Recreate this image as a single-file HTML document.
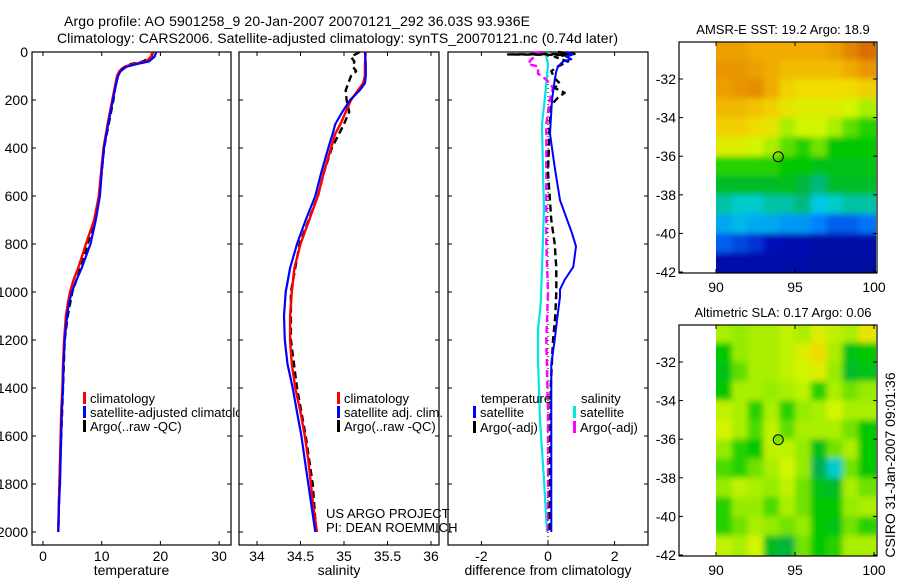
<!DOCTYPE html>
<html><head><meta charset="utf-8">
<style>
html,body{margin:0;padding:0;background:#fff;}
svg{display:block;font-family:"Liberation Sans",sans-serif;font-size:14px;}
.sm{font-size:13px;}
</style></head>
<body>
<svg id="fig" width="900" height="580" viewBox="0 0 900 580" xmlns="http://www.w3.org/2000/svg">
<text x="64" y="26" textLength="466" lengthAdjust="spacing">Argo profile: AO 5901258_9 20-Jan-2007 20070121_292 36.03S 93.936E</text>
<text x="57" y="43" textLength="561" lengthAdjust="spacing">Climatology: CARS2006. Satellite-adjusted climatology: synTS_20070121.nc (0.74d later)</text>
<g id="layer"></g>
</svg>
<script>
// ---------------- data ----------------
const depthTicks=[0,200,400,600,800,1000,1200,1400,1600,1800,2000];
const tempTicks=[0,10,20,30];
const salTicks=[34,34.5,35,35.5,36];
const diffTicks=[-2,0,2];
// temperature profiles
const tClimDepth=[0,20,40,50,60,70,80,100,150,200,300,400,500,600,700,800,900,950,1000,1050,1100,1200,1300,1400,1500,1600,1700,1800,1900,2000];
const tClim=[18.6,18.4,17.5,15.5,14.0,13.4,13.0,12.6,12.2,11.8,11.0,10.3,9.9,9.5,8.7,7.3,6.0,5.2,4.6,4.2,3.9,3.6,3.4,3.3,3.1,3.0,2.9,2.8,2.7,2.6];
const tSat=[19.3,19.0,18.0,16.0,14.4,13.6,13.2,12.8,12.3,11.9,11.1,10.4,10.0,9.7,9.0,8.1,6.6,5.7,4.9,4.4,4.1,3.7,3.5,3.4,3.2,3.1,3.0,2.9,2.7,2.6];
const tArgoDepth=[0,20,40,50,60,80,100,150,200,300,400,500,600,700,800,900,1000,1100,1200,1400,1600,1800,2000];
const tArgo=[18.7,18.5,17.0,15.0,14.2,13.2,12.7,12.3,12.0,11.2,10.4,10.0,9.6,8.8,7.6,6.4,5.0,4.2,3.7,3.4,3.1,2.8,2.6];
// salinity profiles
const sDepth=[0,50,100,130,160,200,250,300,340,400,500,600,700,800,900,1000,1100,1200,1300,1400,1500,1600,1700,1800,1900,2000];
const sClim=[35.25,35.24,35.24,35.22,35.16,35.08,35.02,34.96,34.90,34.85,34.77,34.70,34.60,34.50,34.43,34.40,34.38,34.38,34.40,34.44,34.50,34.55,34.59,34.62,34.65,34.69];
const sSat=[35.24,35.25,35.25,35.24,35.18,35.07,34.98,34.90,34.87,34.82,34.74,34.67,34.56,34.46,34.38,34.33,34.31,34.32,34.35,34.41,34.46,34.51,34.55,34.59,34.63,34.67];
const sArgoDepth=[0,20,40,60,80,100,130,160,200,250,300,400,500,600,800,1000,1200,1400,1600,1800,2000];
const sArgo=[35.18,35.08,35.12,35.1,35.14,35.08,35.05,35.02,35.03,35.06,35.0,34.86,34.77,34.70,34.49,34.39,34.39,34.46,34.56,34.64,34.68];
// differences from climatology
const dTSatDepth=[0,10,20,30,40,60,80,117,200,340,480,617,755,810,895,950,990,1020,1117,1200,1300,1500,1800,2000];
const dTSat=[0.55,0.75,0.55,0.7,0.45,0.3,0.25,0.2,0.12,0.06,0.2,0.36,0.72,0.84,0.76,0.5,0.36,0.36,0.27,0.2,0.1,0.1,0.1,0.1];
const dSSatDepth=[0,20,50,100,200,300,500,650,900,1050,1158,1283,1533,1783,2000];
const dSSat=[0,-0.05,0.0,-0.03,-0.1,-0.18,-0.15,-0.12,-0.18,-0.22,-0.3,-0.3,-0.24,-0.12,-0.03];
const dTArgoDepth=[0,8,10,12,20,40,60,80,110,130,150,170,190,220,300,500,700,800,900,1000,1100,1200,1400,2000];
const dTArgo=[0.3,0.8,-1.2,0.6,0.2,0.6,0.3,0.1,0.2,0.35,0.2,0.5,0.3,0.1,0.05,0.0,0.1,0.2,0.25,0.25,0.22,0.15,0.08,0.05];
const dSArgoDepth=[0,5,10,30,50,60,90,110,130,150,200,300,400,800,1000,1200,1500,1800,2000];
const dSArgo=[-0.2,-0.5,-0.3,-0.5,-0.6,-0.3,-0.3,-0.1,0.05,0.15,0.05,-0.05,-0.05,-0.05,0,-0.05,0,0,0];
// maps
const latTicks=[-32,-34,-36,-38,-40,-42];
const lonTicks=[90,95,100];
const gridLon=[90,91,92,93,94,95,96,97,98,99];
const gridLat=[-30,-31,-32,-33,-34,-35,-36,-37,-38,-39,-40,-41];
const sstGrid=[
[0.8,0.8,0.78,0.78,0.78,0.78,0.78,0.8,0.85,0.9],
[0.82,0.82,0.8,0.78,0.75,0.75,0.75,0.75,0.78,0.82],
[0.8,0.82,0.84,0.78,0.72,0.7,0.7,0.7,0.7,0.72],
[0.76,0.76,0.74,0.72,0.68,0.66,0.66,0.66,0.64,0.6],
[0.72,0.72,0.7,0.68,0.6,0.64,0.64,0.6,0.55,0.52],
[0.66,0.66,0.64,0.6,0.55,0.52,0.56,0.5,0.5,0.5],
[0.52,0.52,0.52,0.52,0.5,0.5,0.48,0.48,0.48,0.48],
[0.46,0.46,0.46,0.46,0.47,0.44,0.4,0.46,0.46,0.46],
[0.38,0.36,0.36,0.38,0.38,0.4,0.34,0.36,0.38,0.38],
[0.3,0.32,0.3,0.3,0.28,0.28,0.25,0.22,0.22,0.24],
[0.22,0.2,0.18,0.14,0.12,0.12,0.1,0.1,0.1,0.1],
[0.1,0.1,0.1,0.1,0.1,0.1,0.08,0.08,0.08,0.08]];
const slaGrid=[
[0.6,0.58,0.6,0.6,0.62,0.6,0.66,0.62,0.6,0.68],
[0.5,0.58,0.6,0.6,0.62,0.66,0.7,0.6,0.48,0.5],
[0.48,0.55,0.6,0.6,0.62,0.64,0.66,0.58,0.46,0.48],
[0.5,0.6,0.6,0.58,0.6,0.62,0.52,0.6,0.56,0.58],
[0.62,0.6,0.52,0.6,0.52,0.58,0.6,0.64,0.6,0.6],
[0.64,0.6,0.54,0.62,0.55,0.6,0.6,0.6,0.56,0.5],
[0.58,0.52,0.5,0.62,0.62,0.58,0.48,0.56,0.6,0.5],
[0.54,0.52,0.56,0.6,0.64,0.58,0.42,0.36,0.56,0.5],
[0.58,0.62,0.6,0.58,0.62,0.56,0.48,0.46,0.6,0.56],
[0.52,0.58,0.58,0.54,0.6,0.56,0.5,0.5,0.58,0.6],
[0.52,0.56,0.6,0.58,0.56,0.58,0.5,0.48,0.56,0.52],
[0.62,0.6,0.64,0.46,0.44,0.56,0.5,0.52,0.6,0.6]];
const argoPos=[93.94,-36.03];

// ---------------- drawing ----------------
const NS="http://www.w3.org/2000/svg";
const layer=document.getElementById('layer');
function el(tag,attrs,parent){const e=document.createElementNS(NS,tag);for(const k in attrs)e.setAttribute(k,attrs[k]);(parent||layer).appendChild(e);return e;}
function txt(x,y,s,anchor,parent){const t=el('text',{x:x,y:y,'text-anchor':anchor||'start'},parent);t.textContent=s;return t;}

const depthY=d=>52+d*0.24;
function makePanel(name,x0,x1,xScale,ticks,label,showY){
  const g=el('g',{});
  
  
  el('rect',{x:x0,y:52,width:x1-x0,height:493,fill:'#fff',stroke:'#000','stroke-width':1.2},g);
  depthTicks.forEach(d=>{const y=depthY(d);
    el('line',{x1:x0,x2:x0+4,y1:y,y2:y,stroke:'#000'},g);
    el('line',{x1:x1-4,x2:x1,y1:y,y2:y,stroke:'#000'},g);
    if(showY){const t=txt(28,y+5,String(d),'end',g);}
  });
  ticks.forEach(v=>{const x=xScale(v);
    el('line',{x1:x,x2:x,y1:52,y2:56,stroke:'#000'},g);
    el('line',{x1:x,x2:x,y1:541,y2:545,stroke:'#000'},g);
    const t=txt(x,561,String(v),'middle',g);
  });
  const lb=txt((x0+x1)/2,575,label,'middle',g);
  
  
  return g;
}
function line(g,xs,ds,xScale,color,dash,w,name){
  const pts=xs.map((v,i)=>xScale(v).toFixed(1)+','+depthY(ds[i]).toFixed(1)).join(' ');
  const p=el('polyline',{points:pts,fill:'none',stroke:color,'stroke-width':w||2.2,'stroke-dasharray':dash||'none','stroke-linejoin':'round'},g);
  
  
}
function legend(g,x,y,color,label,name){
  el('rect',{x:x,y:y-11,width:3,height:12,fill:color},g);
  const t=txt(x+7,y,label,'start',g);
  t.setAttribute('class','sm');
  
  
}

// panel 1 temperature
const tX=v=>43+v*5.87;
const p1=makePanel('temperature-panel',32,231,tX,tempTicks,'temperature',true);
line(p1,tArgo,tArgoDepth,tX,'#000','7,4',2.4,'argo-temperature-line');
line(p1,tClim,tClimDepth,tX,'#f00',null,2.4,'climatology-temperature-line');
line(p1,tSat,tClimDepth,tX,'#00f',null,2.2,'satellite-temperature-line');
legend(p1,83,403,'#f00','climatology','legend-climatology');
legend(p1,83,417,'#00f','satellite-adjusted climatology','legend-satellite-adjusted');
legend(p1,83,431,'#000','Argo(..raw -QC)','legend-argo');

// panel 2 salinity
const sX=v=>257+(v-34)*87;
const p2=makePanel('salinity-panel',239,439,sX,salTicks,'salinity',false);
line(p2,sArgo,sArgoDepth,sX,'#000','7,4',2.4,'argo-salinity-line');
line(p2,sClim,sDepth,sX,'#f00',null,2.4,'climatology-salinity-line');
line(p2,sSat,sDepth,sX,'#00f',null,2.2,'satellite-salinity-line');
legend(p2,337,403,'#f00','climatology','legend-climatology-2');
legend(p2,337,417,'#00f','satellite adj. clim.','legend-satellite-adj-2');
legend(p2,337,431,'#000','Argo(..raw -QC)','legend-argo-2');

// panel 3 difference
const dX=v=>548+v*33.3;
const p3=makePanel('difference-panel',448,648,dX,diffTicks,'difference from climatology',false);
el('line',{x1:dX(0),x2:dX(0),y1:52,y2:541,stroke:'#000','stroke-width':1,'stroke-dasharray':'1,3'},p3);
line(p3,dSSat,dSSatDepth,dX,'#00e5e5',null,2.2,'salinity-satellite-diff-line');
line(p3,dSArgo,dSArgoDepth,dX,'#f0f','7,4',2.4,'salinity-argo-diff-line');
line(p3,dTArgo,dTArgoDepth,dX,'#000','7,4',2.4,'temperature-argo-diff-line');
line(p3,dTSat,dTSatDepth,dX,'#00f',null,2.0,'temperature-satellite-diff-line');
{const t=txt(481,403,'temperature','start',p3);t.setAttribute('class','sm');}
{const t=txt(581,403,'salinity','start',p3);t.setAttribute('class','sm');}
legend(p3,473,417,'#00f','satellite','legend-temp-satellite');
legend(p3,473,432,'#000','Argo(-adj)','legend-temp-argo');
legend(p3,573,417,'#00e5e5','satellite','legend-sal-satellite');
legend(p3,573,432,'#f0f','Argo(-adj)','legend-sal-argo');

{const t=txt(326,518,'US ARGO PROJECT');t.setAttribute('class','sm');}
{const t=txt(326,532,'PI: DEAN ROEMMICH');t.setAttribute('class','sm');}

// colormap
const stops=[[0,[0,0,122]],[0.15,[0,16,192]],[0.25,[0,128,255]],[0.35,[0,208,224]],[0.42,[0,176,80]],[0.5,[0,200,0]],[0.58,[150,235,0]],[0.64,[210,245,0]],[0.7,[240,220,0]],[0.78,[240,170,0]],[0.86,[224,128,0]],[1,[192,64,0]]];
function cmap(v){for(let i=1;i<stops.length;i++){if(v<=stops[i][0]){const a=stops[i-1],b=stops[i],f=(v-a[0])/(b[0]-a[0]);return 'rgb('+a[1].map((c,k)=>Math.round(c+(b[1][k]-c)*f)).join(',')+')';}}return 'rgb(192,64,0)';}

function makeMap(name,top,titleStr,grid,idx,dotFill){
  const x0=679,x1=877,bottom=top+231;
  const lonX=v=>716+(v-90)*15.8;
  const latY=v=>bottom-1-(v+42)*19.3;
  const g=el('g',{});
  
  
  const tt=txt(783,top-8,titleStr,'middle',g);
  tt.setAttribute('class','sm');
  
  
  const defs=el('defs',{},g);
  const f=el('filter',{id:'blur'+idx,x:'-5%',y:'-5%',width:'110%',height:'110%'},defs);
  el('feGaussianBlur',{stdDeviation:3,edgeMode:'duplicate'},f);
  const cp=el('clipPath',{id:'clip'+idx},defs);
  el('rect',{x:lonX(90),y:top,width:lonX(100)-lonX(90)+2,height:bottom-top},cp);
  const cg=el('g',{'clip-path':'url(#clip'+idx+')'},g);
  const hg=el('g',{filter:'url(#blur'+idx+')'},cg);
  gridLat.forEach((lat,r)=>gridLon.forEach((lon,c)=>{
    const yTop=latY(lat+(r===0?2:0)),yB=latY(lat-1-(r===gridLat.length-1?2:0));
    const xl=lonX(lon-(c===0?1:0)),xr=lonX(lon+1+(c===gridLon.length-1?2:0));
    const cell=el('rect',{x:xl,y:yTop,width:xr-xl+0.5,height:yB-yTop+0.5,fill:cmap(grid[r][c])},hg);
    
    
  }));
  el('rect',{x:x0,y:top,width:x1-x0,height:bottom-top,fill:'none',stroke:'#000','stroke-width':1.2},g);
  latTicks.forEach(v=>{const y=latY(v);
    el('line',{x1:x0,x2:x0+4,y1:y,y2:y,stroke:'#000'},g);el('line',{x1:x1-4,x2:x1,y1:y,y2:y,stroke:'#000'},g);
    const t=txt(676,y+5,String(v),'end',g);});
  lonTicks.forEach(v=>{const x=lonX(v);
    el('line',{x1:x,x2:x,y1:top,y2:top+4,stroke:'#000'},g);el('line',{x1:x,x2:x,y1:bottom-4,y2:bottom,stroke:'#000'},g);
    const t=txt(x,bottom+19,String(v),'middle',g);});
  const dot=el('circle',{cx:lonX(argoPos[0]),cy:latY(argoPos[1]),r:5,fill:dotFill,stroke:'#000','stroke-width':1},g);
  
  
}
makeMap('sst-map',42,'AMSR-E SST: 19.2 Argo: 18.9',sstGrid,1,'none');
makeMap('sla-map',325,'Altimetric SLA: 0.17 Argo: 0.06',slaGrid,2,'#80e000');
const stamp=txt(0,0,'CSIRO 31-Jan-2007 09:01:36','middle');
stamp.setAttribute('transform','translate(895,465) rotate(-90)');


</script>
</body></html>
